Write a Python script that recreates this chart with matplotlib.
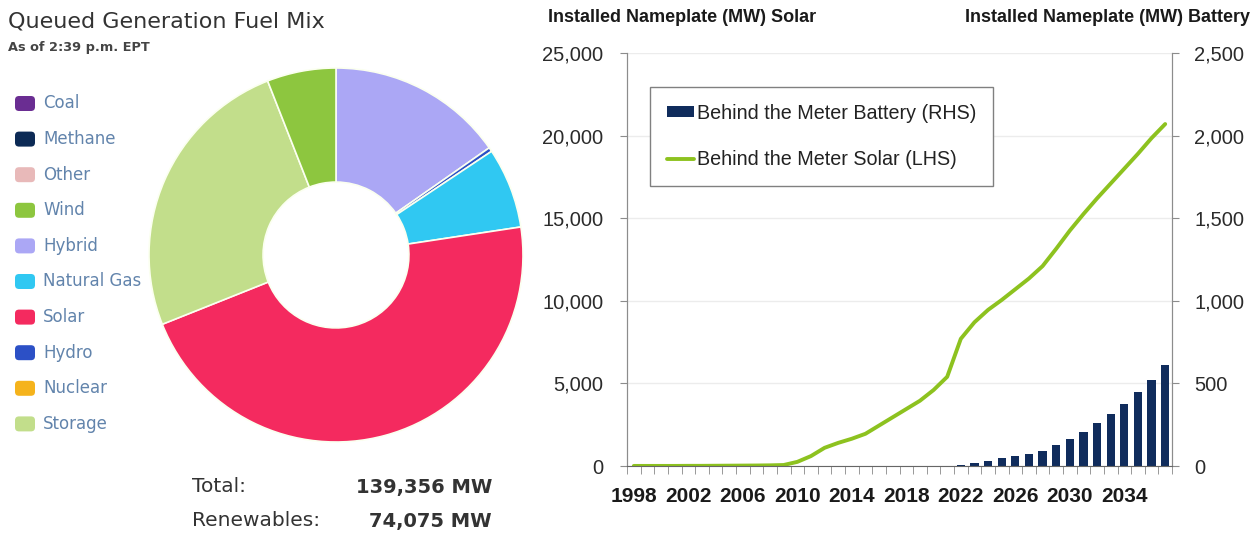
import matplotlib
matplotlib.use("Agg")
import matplotlib.pyplot as plt
import numpy as np
from matplotlib.patches import FancyBboxPatch
from matplotlib.ticker import FuncFormatter

# ---------------- data ----------------
fuel_legend = ["Coal", "Methane", "Other", "Wind", "Hybrid", "Natural Gas",
               "Solar", "Hydro", "Nuclear", "Storage"]
fuel_colors = ["#6a2d92", "#0c2a55", "#e8b9b9", "#8dc63f", "#aba7f5", "#30c8f2",
               "#f42a5f", "#2c50c6", "#f5b31c", "#c2de8b"]

# wedges as drawn clockwise from 12 o'clock
pie_labels = ["Hybrid", "Hydro", "Natural Gas", "Solar", "Storage", "Wind"]
pie_values = [21300, 500, 9700, 64600, 34956, 8300]

total_mw = "139,356 MW"
renew_mw = "74,075 MW"

years = list(range(1998, 2038))
solar_mw = [5, 5, 5, 5, 10, 10, 15, 20, 25, 30, 40,
            60, 250, 600, 1100, 1400, 1650, 1950, 2450, 2950, 3450, 3950,
            4600, 5400, 7700, 8700, 9450, 10050, 10700, 11350, 12100, 13150,
            14250, 15250, 16200, 17100, 18000, 18900, 19850, 20700]
battery_mw = [0] * 23 + [0, 6, 16, 32, 48, 59, 75, 93, 125, 162, 206, 259,
                         315, 376, 446, 521, 610]

# ---------------- figure ----------------
W, H = 1258, 537
fig = plt.figure(figsize=(W / 100, H / 100), dpi=100)
fig.patch.set_facecolor("white")

SANS = ["Liberation Sans", "DejaVu Sans"]

# overlay in pixel coordinates for free text
ov = fig.add_axes([0, 0, 1, 1])
ov.set_xlim(0, W)
ov.set_ylim(H, 0)
ov.axis("off")

# ---------- left: donut ----------
cx, cy, r = 336, 255, 187
axp = fig.add_axes([(cx - r) / W, (H - cy - r) / H, 2 * r / W, 2 * r / H])
cmap = dict(zip(fuel_legend, fuel_colors))
axp.pie(pie_values, colors=[cmap[l] for l in pie_labels], startangle=90,
        counterclock=False,
        wedgeprops=dict(width=0.61, edgecolor="#fbfff0", linewidth=1.2))
axp.set_xlim(-1, 1)
axp.set_ylim(-1, 1)

ov.text(8, 21, "Queued Generation Fuel Mix", fontsize=16, color="#333333",
        va="center", ha="left", family="DejaVu Sans")
ov.text(8, 48, "As of 2:39 p.m. EPT", fontsize=9.3, color="#444444",
        va="center", ha="left", fontweight="bold")

y0, dy = 103.5, 35.6
for i, (lab, col) in enumerate(zip(fuel_legend, fuel_colors)):
    yc = y0 + i * dy
    ov.add_patch(FancyBboxPatch((15, yc - 7.5), 20, 15,
                                boxstyle="round,pad=0,rounding_size=4",
                                fc=col, ec="none"))
    ov.text(43, yc, lab, fontsize=12, color="#6284ac", va="center", ha="left")

ov.text(192, 487, "Total:", fontsize=14.5, color="#333333", va="center", ha="left")
ov.text(492, 487, total_mw, fontsize=14, color="#333333", va="center",
        ha="right", fontweight="bold")
ov.text(192, 521, "Renewables:", fontsize=14.5, color="#333333", va="center",
        ha="left")
ov.text(492, 521, renew_mw, fontsize=14, color="#333333", va="center",
        ha="right", fontweight="bold")

# ---------- right: combo chart ----------
L, R, T, B = 627, 1172, 53, 466
ax = fig.add_axes([L / W, 1 - B / H, (R - L) / W, (B - T) / H])
ax2 = ax.twinx()
ax.set_zorder(ax2.get_zorder() + 1)
ax.patch.set_visible(False)

x = np.arange(len(years))
bars = ax2.bar(x, battery_mw, width=0.6, color="#102c5c", zorder=2,
               label="Behind the Meter Battery (RHS)")
line, = ax.plot(x, solar_mw, color="#8dc21f", lw=2.8, solid_capstyle="round",
                label="Behind the Meter Solar (LHS)")

ax.set_xlim(-0.5, len(years) - 0.5)
ax.set_ylim(0, 25000)
ax2.set_ylim(0, 2500)
ax.set_yticks(np.arange(0, 25001, 5000))
ax2.set_yticks(np.arange(0, 2501, 500))
fmt = FuncFormatter(lambda v, p: f"{int(v):,}")
ax.yaxis.set_major_formatter(fmt)
ax2.yaxis.set_major_formatter(fmt)

ax2.set_axisbelow(True)
ax2.grid(axis="y", color="#ececec", lw=1)

ax.set_xticks(x[::4])
ax.set_xticklabels([str(y) for y in years[::4]], fontweight="bold",
                   family=SANS, fontsize=15, color="#1a1a1a")
ax.set_xticks(np.arange(-0.5, len(years), 1), minor=True)
ax.tick_params(axis="x", which="major", length=0, pad=15)
ax.tick_params(axis="x", which="minor", length=6, color="#888888",
               direction="out")

for a in (ax, ax2):
    for s in a.spines.values():
        s.set_color("#8c8c8c")
    a.spines["top"].set_visible(False)
ax.spines["bottom"].set_color("#666666")
ax2.spines["bottom"].set_visible(False)

ax.tick_params(axis="y", length=5, color="#8c8c8c", pad=12, labelsize=14.5,
               labelcolor="#2b2b2b")
ax2.tick_params(axis="y", length=5, color="#8c8c8c", pad=11, labelsize=14.5,
                labelcolor="#2b2b2b")
for lab in ax.get_yticklabels() + ax2.get_yticklabels():
    lab.set_family(SANS)

leg = ax.legend(handles=[bars, line], loc="upper left",
                bbox_to_anchor=(0.042, 0.918), borderaxespad=0,
                frameon=True, fancybox=False,
                edgecolor="#808080", framealpha=1,
                prop=dict(family=SANS, size=14.2),
                handlelength=1.4, handleheight=0.45, handletextpad=0.15,
                labelspacing=1.4, borderpad=0.85)
leg.get_frame().set_linewidth(1.0)
for t in leg.get_texts():
    t.set_color("#222222")

ov.text(548, 18, "Installed Nameplate (MW) Solar", fontsize=13,
        fontweight="bold", family=SANS, color="#1a1a1a", va="center",
        ha="left")
ov.text(1250, 18, "Installed Nameplate (MW) Battery", fontsize=13,
        fontweight="bold", family=SANS, color="#1a1a1a", va="center",
        ha="right")

fig.savefig("out.png", dpi=100, facecolor="white")
